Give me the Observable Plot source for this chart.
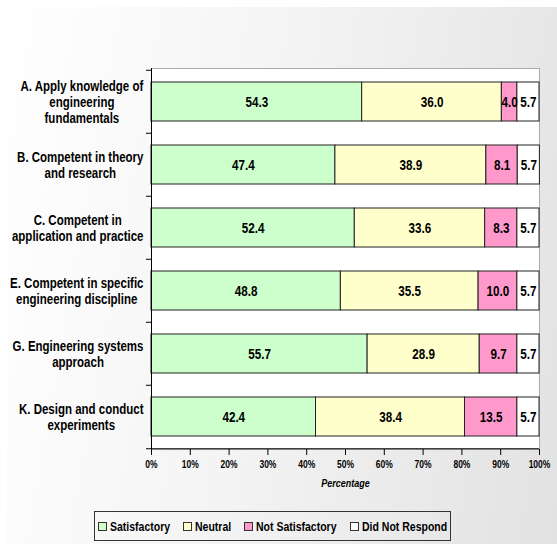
<!DOCTYPE html>
<html><head><meta charset="utf-8">
<script src="https://cdn.jsdelivr.net/npm/d3@7"></script>
<script src="https://cdn.jsdelivr.net/npm/@observablehq/plot@0.6"></script>
<style>
html,body{margin:0;padding:0;background:#fff;}
#wrap{position:relative;width:557px;height:544px;overflow:hidden;}
#bg{position:absolute;left:7px;top:7px;right:0;bottom:0;background:linear-gradient(100deg,#ffffff 0%,#f4f4f4 45%,#e2e2e2 100%);}
#chart{position:absolute;left:0;top:0;}
#legend{position:absolute;left:94px;top:511px;width:357px;height:30px;box-sizing:border-box;border:1px solid #333;display:flex;align-items:center;justify-content:center;gap:13px;font-weight:bold;color:#000;}
.item{display:flex;align-items:center;gap:3px}
.sw{width:7px;height:7px;border:1px solid #333}
.tw{display:inline-block;overflow:visible;white-space:nowrap}
.ti{display:inline-block;transform-origin:0 50%;white-space:nowrap}
</style></head><body>
<div id="wrap"><div id="bg"></div><div id="chart"></div><div id="legend"></div></div>
<script>
const categories = [
  "A. Apply knowledge of\nengineering\nfundamentals",
  "B. Competent in theory\nand research",
  "C. Competent in\napplication and practice",
  "E. Competent in specific\nengineering discipline",
  "G. Engineering systems\napproach",
  "K. Design and conduct\nexperiments"
];
const seriesNames = ["Satisfactory", "Neutral", "Not Satisfactory", "Did Not Respond"];
const satisfactory    = [54.3, 47.4, 52.4, 48.8, 55.7, 42.4];
const neutral         = [36.0, 38.9, 33.6, 35.5, 28.9, 38.4];
const notSatisfactory = [4.0, 8.1, 8.3, 10.0, 9.7, 13.5];
const didNotRespond   = [5.7, 5.7, 5.7, 5.7, 5.7, 5.7];
const xTicks = [0, 10, 20, 30, 40, 50, 60, 70, 80, 90, 100];
const colors = ["#ccffcc", "#ffffcc", "#ff99cc", "#ffffff"];

const seriesValues = [satisfactory, neutral, notSatisfactory, didNotRespond];
const data = categories.flatMap((c, i) =>
  seriesNames.map((s, j) => ({category: c, series: s, value: seriesValues[j][i]})));

// the reference text is horizontally condensed: larger font, squeezed horizontally
const squeeze = 0.82;
const font = '"Liberation Sans", Arial, sans-serif';
const sz = s => +(s / squeeze).toFixed(2);
const ctx = document.createElement("canvas").getContext("2d");

const width = 557, height = 500;
const marginLeft = 151, marginRight = 18, marginTop = 68, marginBottom = 51;
const step = (height - marginTop - marginBottom) / categories.length;
const labelSize = sz(11.5);

ctx.font = `bold ${labelSize}px ${font}`;
const labelWidth = c => squeeze * Math.max(...c.split("\n").map(l => ctx.measureText(l).width));

const labelMarks = categories.map(c => Plot.text([c], {
  y: d => d, x: () => 0, text: d => d,
  textAnchor: "middle", dx: -(8 + labelWidth(c) / 2),
  fontWeight: "bold", fontSize: labelSize, lineHeight: 16 / labelSize, fill: "#000"
}));

const chart = Plot.plot({
  width, height, marginLeft, marginRight, marginTop, marginBottom,
  style: {fontFamily: font, background: "transparent", overflow: "visible"},
  x: {domain: [0, 100]},
  y: {domain: categories, paddingInner: 0.385, paddingOuter: 0.1925},
  color: {domain: seriesNames, range: colors},
  marks: [
    Plot.frame({fill: "white", stroke: "#aaa"}),
    Plot.barX(data, Plot.stackX({y: "category", x: "value", fill: "series", stroke: "#222", strokeWidth: 1})),
    Plot.text(data, Plot.stackX({y: "category", x: "value", z: "series",
      text: d => d.value.toFixed(1), fontWeight: "bold", fontSize: sz(11.7), fill: "#000"})),
    Plot.ruleX([0], {stroke: "#000"}),
    Plot.ruleY([categories[categories.length - 1]], {y: d => d, dy: step / 2, stroke: "#000"}),
    Plot.axisY({text: null, label: null, tickSize: 5, dy: -step / 2, stroke: "#000"}),
    Plot.axisY([categories[categories.length - 1]], {text: null, label: null, tickSize: 5, dy: step / 2, stroke: "#000"}),
    Plot.axisX(xTicks, {tickFormat: d => d + "%", tickSize: 6, tickPadding: 5,
      fontSize: sz(8.5), fontWeight: "bold", label: null, stroke: "#000", fill: "#000"}),
    Plot.text(["Percentage"], {frameAnchor: "bottom", dy: 37, text: d => d,
      fontStyle: "italic", fontWeight: "bold", fontSize: sz(9), fill: "#000"}),
    ...labelMarks
  ]
});

// squeeze every text horizontally around its anchor
chart.querySelectorAll("text").forEach(t => {
  let tr = t.getAttribute("transform");
  if (!tr) {
    const x = +(t.getAttribute("x") || 0), y = +(t.getAttribute("y") || 0);
    t.removeAttribute("x"); t.removeAttribute("y");
    tr = `translate(${x},${y})`;
  }
  t.setAttribute("transform", `${tr} scale(${squeeze},1)`);
});
document.getElementById("chart").appendChild(chart);

const legend = document.getElementById("legend");
const legendSize = sz(10.5);
legend.style.fontFamily = font;
legend.style.fontSize = legendSize + "px";
ctx.font = `bold ${legendSize}px ${font}`;
seriesNames.forEach((s, j) => {
  const it = document.createElement("div");
  it.className = "item";
  const w = ctx.measureText(s).width * squeeze;
  it.innerHTML = `<span class="sw" style="background:${colors[j]}"></span>` +
    `<span class="tw" style="width:${w}px"><span class="ti" style="transform:scaleX(${squeeze})">${s}</span></span>`;
  legend.appendChild(it);
});
</script>
</body></html>
